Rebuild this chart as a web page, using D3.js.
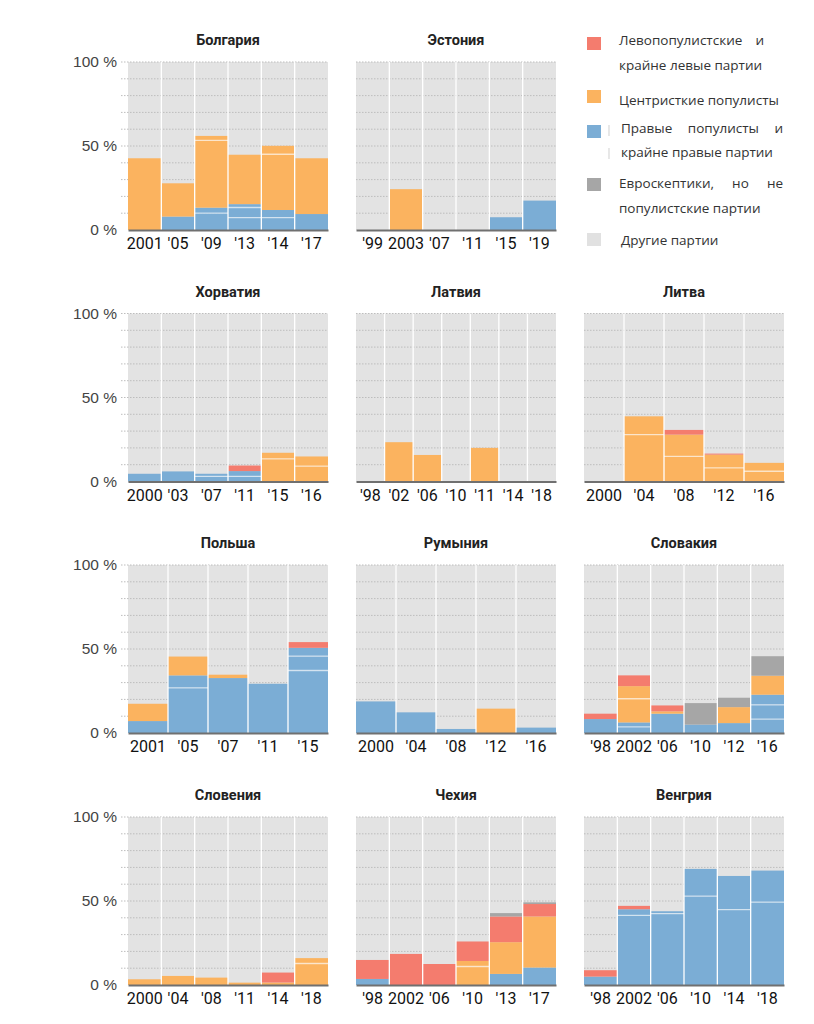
<!DOCTYPE html>
<html><head><meta charset="utf-8">
<script src="https://cdn.jsdelivr.net/npm/d3@7"></script>
<style>
html,body{margin:0;padding:0;background:#fff;}
svg{display:block;}
</style></head>
<body>
<script>
// ---------- DATA ----------
const countryNames = ["Болгария","Эстония","Хорватия","Латвия","Литва","Польша","Румыния","Словакия","Словения","Чехия","Венгрия"];

const bulgariaYears  = ["2001","'05","'09","'13","'14","'17"];
const bulgariaRight  = [[],[8],[10,3.3],[7.4,6,2],[7.4,4.5],[9.5]];
const bulgariaCentre = [[42.7],[19.8],[40,2.7],[29.4],[33.2,5],[33.2]];

const estoniaYears  = ["'99","2003","'07","'11","'15","'19"];
const estoniaRight  = [[],[],[],[],[7.6],[17.5]];
const estoniaCentre = [[],[24.3],[],[],[],[]];

const croatiaYears  = ["2000","'03","'07","'11","'15","'16"];
const croatiaRight  = [[4.6],[6],[3,1.6],[3,3.2],[],[]];
const croatiaCentre = [[],[],[],[],[13.5,3.6],[9.1,5.8]];
const croatiaLeft   = [[],[],[],[3.3],[],[]];

const latviaYears  = ["'98","'02","'06","'10","'11","'14","'18"];
const latviaCentre = [[],[23.4],[15.8],[],[20],[],[]];

const lithuaniaYears  = ["2000","'04","'08","'12","'16"];
const lithuaniaCentre = [[],[27.9,10.9],[14.9,13],[8.1,7.9],[6.1,5]];
const lithuaniaLeft   = [[],[],[2.8],[0.6],[]];

const polandYears  = ["2001","'05","'07","'11","'15"];
const polandRight  = [[7.1],[26.9,7.4],[32.7],[29.3],[37.2,8.5,5]];
const polandCentre = [[10.3],[11.2],[2],[],[]];
const polandLeft   = [[],[],[],[],[3.4]];

const romaniaYears  = ["2000","'04","'08","'12","'16"];
const romaniaRight  = [[18.8],[12.3],[2.4],[],[3.2]];
const romaniaCentre = [[],[],[],[14.5],[]];

const slovakiaYears  = ["'98","2002","'06","'10","'12","'16"];
const slovakiaRight  = [[8.3],[3.6,2.7],[11.5],[5],[5.9],[8.3,8.5,6]];
const slovakiaCentre = [[],[14.1,7.5],[1.4],[],[9.5],[11.3]];
const slovakiaLeft   = [[3.2],[6.4],[3.5],[],[],[]];
const slovakiaEuro   = [[],[],[],[12.8],[5.6],[11.6]];

const sloveniaYears  = ["2000","'04","'08","'11","'14","'18"];
const sloveniaCentre = [[3.4],[5.4],[4.4],[1.4],[1.5],[12.8,3.2]];
const sloveniaLeft   = [[],[],[],[],[5.9],[]];

const czechYears  = ["'98","2002","'06","'10","'13","'17"];
const czechRight  = [[3.6],[],[],[],[6.6],[10.4]];
const czechCentre = [[],[],[],[11,3.3],[18.9],[30.4]];
const czechLeft   = [[11.3],[18.5],[12.5],[11.6],[15.3],[7.4]];
const czechEuro   = [[],[],[],[],[2],[1]];

const hungaryYears = ["'98","2002","'06","'10","'14","'18"];
const hungaryRight = [[5],[41.5,3.6],[42.5,1.4],[52.9,16.2],[44.9,20],[49.3,18.8]];
const hungaryLeft  = [[3.8],[2],[],[],[],[]];

const yTickValues = [0, 50, 100];
const yTickLabels = ["0 %", "50 %", "100 %"];

const legendColors = ["#f47c6e","#fbb35f","#7badd5","#a6a6a6","#e1e1e1"];
const legendLines = [
  ["Левопопулистские и", "крайне левые партии"],
  ["Центристкие популисты"],
  ["Правые популисты и", "крайне правые партии"],
  ["Евроскептики, но не", "популистские партии"],
  ["Другие партии"]
];

// ---------- LAYOUT / STYLE ----------
const W = 814, H = 1024;
const colX = [128, 356, 584];
const rowY = [62, 313.5, 565, 817];
const PW = 200, PH = 168;
const catOrder = ["right","centre","left","euro"];
const catColor = {right:"#7badd5", centre:"#fbb35f", left:"#f47c6e", euro:"#a6a6a6"};
const otherColor = "#e3e3e3";

const panels = [
  {name:countryNames[0], row:0, col:0, years:bulgariaYears, right:bulgariaRight, centre:bulgariaCentre},
  {name:countryNames[1], row:0, col:1, years:estoniaYears, right:estoniaRight, centre:estoniaCentre},
  {name:countryNames[2], row:1, col:0, years:croatiaYears, right:croatiaRight, centre:croatiaCentre, left:croatiaLeft},
  {name:countryNames[3], row:1, col:1, years:latviaYears, centre:latviaCentre},
  {name:countryNames[4], row:1, col:2, years:lithuaniaYears, centre:lithuaniaCentre, left:lithuaniaLeft},
  {name:countryNames[5], row:2, col:0, years:polandYears, right:polandRight, centre:polandCentre, left:polandLeft},
  {name:countryNames[6], row:2, col:1, years:romaniaYears, right:romaniaRight, centre:romaniaCentre},
  {name:countryNames[7], row:2, col:2, years:slovakiaYears, right:slovakiaRight, centre:slovakiaCentre, left:slovakiaLeft, euro:slovakiaEuro},
  {name:countryNames[8], row:3, col:0, years:sloveniaYears, centre:sloveniaCentre, left:sloveniaLeft},
  {name:countryNames[9], row:3, col:1, years:czechYears, right:czechRight, centre:czechCentre, left:czechLeft, euro:czechEuro},
  {name:countryNames[10], row:3, col:2, years:hungaryYears, right:hungaryRight, left:hungaryLeft}
];

const svg = d3.select("body").append("svg").attr("width", W).attr("height", H)
  .style("font-family", "Roboto, 'Noto Sans', sans-serif");

panels.forEach(p => {
  const x0 = colX[p.col], y0 = rowY[p.row];
  const g = svg.append("g");
  const x = d3.scaleBand().domain(p.years).range([x0, x0 + PW]).padding(0);
  const y = d3.scaleLinear().domain([0, 100]).range([y0 + PH, y0]);

  // title
  g.append("text").attr("x", x0 + PW / 2).attr("y", y0 - 17)
    .attr("text-anchor", "middle").attr("font-size", 14.5).attr("font-weight", 700)
    .attr("fill", "#222").text(p.name);

  // background bands (other parties)
  g.selectAll("rect.bg").data(p.years).join("rect")
    .attr("x", d => x(d)).attr("y", y(100)).attr("width", x.bandwidth())
    .attr("height", y(0) - y(100)).attr("fill", otherColor);

  // gridlines
  const gx0 = p.col === 0 ? x0 - 7 : x0;
  g.selectAll("line.grid").data(d3.range(10, 101, 10)).join("line")
    .attr("x1", gx0).attr("x2", x0 + PW).attr("y1", d => y(d)).attr("y2", d => y(d))
    .attr("stroke", "#bdbdbd").attr("stroke-width", 1).attr("stroke-dasharray", "1.5,1.5");

  // stacked segments
  p.years.forEach((yr, i) => {
    let base = 0;
    catOrder.forEach(cat => {
      const parts = (p[cat] && p[cat][i]) || [];
      parts.forEach((v, j) => {
        g.append("rect").attr("x", x(yr)).attr("width", x.bandwidth())
          .attr("y", y(base + v)).attr("height", y(base) - y(base + v))
          .attr("fill", catColor[cat]);
        if (j > 0) {
          g.append("line").attr("x1", x(yr)).attr("x2", x(yr) + x.bandwidth())
            .attr("y1", y(base)).attr("y2", y(base))
            .attr("stroke", "#fff").attr("stroke-opacity", 0.6).attr("stroke-width", 1.3);
        }
        base += v;
      });
    });
  });

  // vertical separators between bands
  g.selectAll("line.sep").data(p.years.slice(1)).join("line")
    .attr("x1", d => x(d)).attr("x2", d => x(d)).attr("y1", y(100)).attr("y2", y(0))
    .attr("stroke", "#fff").attr("stroke-width", 1.3);

  // x axis
  const xAxis = d3.axisBottom(x).tickSize(0).tickPadding(8);
  const ax = g.append("g").attr("transform", `translate(0,${y(0)})`).call(xAxis);
  ax.select(".domain").attr("stroke", "#707070").attr("stroke-width", 2);
  ax.selectAll("text").attr("font-size", 16).attr("fill", "#111")
    .style("font-family", "Roboto, sans-serif");

  // y labels
  if (p.col === 0) {
    const yAxis = d3.axisLeft(y).tickValues(yTickValues)
      .tickFormat((d, i) => yTickLabels[i]).tickSize(0).tickPadding(11);
    const ay = g.append("g").attr("transform", `translate(${x0},0)`).call(yAxis);
    ay.select(".domain").remove();
    ay.selectAll("text").attr("font-size", 15.5).attr("fill", "#444");
  }
});

// ---------- LEGEND ----------
const legSquareY = [37, 90, 125, 178, 233];
const legTextY = [[45, 70], [105], [133, 157], [188, 213], [245]];
const legTextRight = [[764, null], [null], [783, null], [783, null], [null]];
const legTextX = [619, 619, 621, 619, 621];
const leg = svg.append("g").style("font-family", "'Open Sans', 'Noto Sans', sans-serif");
legendColors.forEach((c, i) => {
  leg.append("rect").attr("x", 587).attr("y", legSquareY[i]).attr("width", 14).attr("height", 13).attr("fill", c);
  legendLines[i].forEach((t, j) => {
    const right = legTextRight[i][j];
    if (!right) {
      leg.append("text").attr("x", legTextX[i]).attr("y", legTextY[i][j])
        .attr("font-size", 13.5).attr("fill", "#333").text(t);
    } else {
      // justified line: distribute words between left and right edges
      const words = t.split(" ");
      const nodes = words.map(w => leg.append("text").attr("y", legTextY[i][j])
        .attr("font-size", 13.5).attr("fill", "#333").text(w));
      const widths = nodes.map(n => n.node().getComputedTextLength());
      const total = d3.sum(widths);
      const gap = (right - legTextX[i] - total) / (words.length - 1);
      let cx = legTextX[i];
      nodes.forEach((n, k) => { n.attr("x", cx); cx += widths[k] + gap; });
    }
  });
});
// faint marks beside the third legend entry
leg.append("line").attr("x1", 609).attr("x2", 609).attr("y1", 125).attr("y2", 136).attr("stroke", "#d8d8d8").attr("stroke-width", 1.2);
leg.append("line").attr("x1", 609).attr("x2", 609).attr("y1", 148).attr("y2", 159).attr("stroke", "#d8d8d8").attr("stroke-width", 1.2);
</script>
</body></html>
